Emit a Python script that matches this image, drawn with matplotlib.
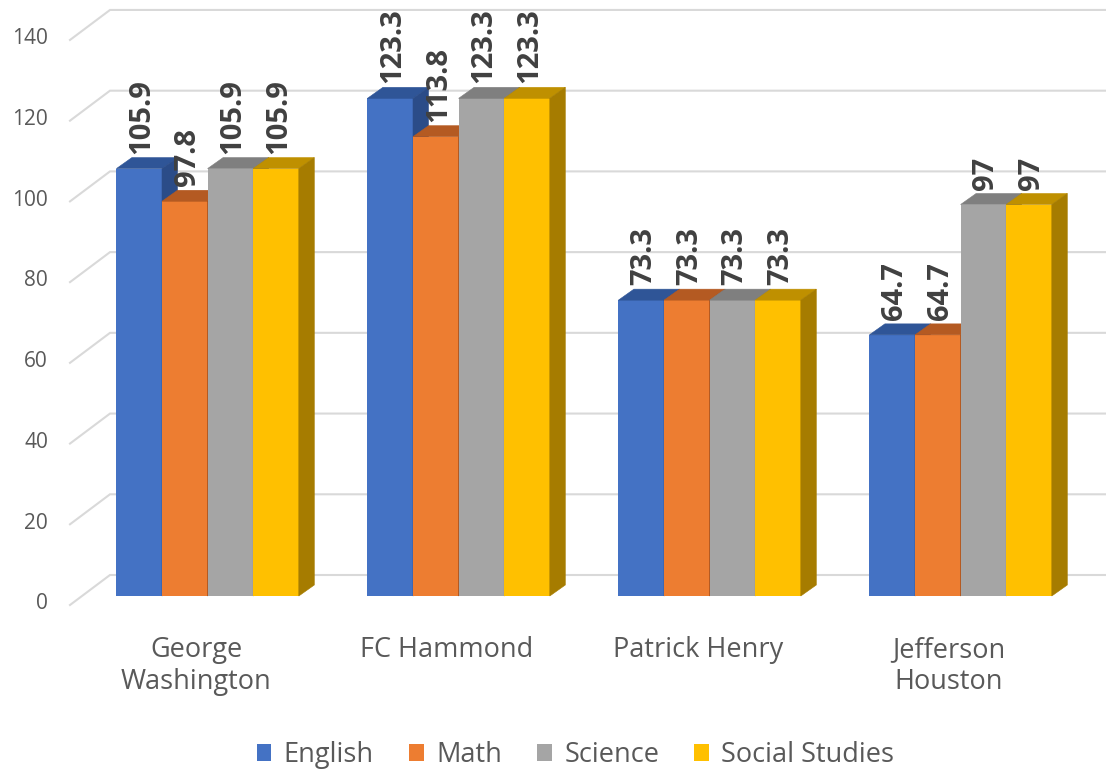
import numpy as np
import matplotlib
matplotlib.use('Agg')
import matplotlib.pyplot as plt
from matplotlib.patches import Polygon, Patch

plt.rcParams['font.family'] = ['Open Sans', 'DejaVu Sans']

# datos
escuelas = ['George\nWashington', 'FC Hammond', 'Patrick Henry', 'Jefferson\nHouston']
materias = ['English', 'Math', 'Science', 'Social Studies']
english = [105.9, 123.3, 73.3, 64.7]
math = [97.8, 113.8, 73.3, 64.7]
science = [105.9, 123.3, 73.3, 97]
social = [105.9, 123.3, 73.3, 97]
ticks_y = [0, 20, 40, 60, 80, 100, 120, 140]

series = [english, math, science, social]
frente = ['#4472c4', '#ed7d31', '#a5a5a5', '#ffc000']
arriba = ['#2f5597', '#b45a22', '#7f7f7f', '#bf9000']
lado = ['#2b4c88', '#a04f1d', '#707070', '#a67c00']

W, H = 1106, 769
fig = plt.figure(figsize=(W / 100, H / 100), dpi=100)
ax = fig.add_axes([0, 0, 1, 1])

# escala en pixeles
pg = 251.0      # pixeles entre grupos
pu = 4.036      # pixeles por unidad
x0 = 207.6      # centro del primer grupo
y0 = 596.0      # base de las barras (desde arriba)
ax.set_xlim(-x0 / pg, (W - x0) / pg)
ax.set_ylim((y0 - H) / pu, y0 / pu)
ax.axis('off')

# profundidad 3d
dx = 15.5 / pg
dy = 11.0 / pu

# lineas de la cuadricula (pared lateral + fondo)
xf = (70 - x0) / pg
xb = (110 - x0) / pg
xr = (W - x0) / pg
of = (y0 - 605) / pu
ob = (y0 - 575) / pu
for t in ticks_y:
    ax.plot([xf, xb, xr], [t + of, t + ob, t + ob], color='#d9d9d9', lw=1.5, zorder=1,
            solid_joinstyle='miter')
    ax.text((48 - x0) / pg, t + of + 0.3, str(t), ha='right', va='center',
            fontsize=15, color='#595959')

# barras
w = 45.6 / pg
xs = np.arange(len(escuelas))
for j, vals in enumerate(series):
    pos = xs + (j - 1.5) * w
    z = 3 + j * 0.1
    ax.bar(pos, vals, width=w, color=frente[j], zorder=z, linewidth=0)
    for p, v in zip(pos, vals):
        l, r = p - w / 2, p + w / 2
        ax.add_patch(Polygon([(l, v), (r, v), (r + dx, v + dy), (l + dx, v + dy)], closed=True,
                             facecolor=arriba[j], edgecolor=arriba[j], lw=0.4, zorder=z))
        ax.add_patch(Polygon([(r, 0), (r, v), (r + dx, v + dy), (r + dx, dy)], closed=True,
                             facecolor=lado[j], edgecolor=lado[j], lw=0.4, zorder=z))
        ax.text(p + 2.5 / pg, v + 15.0 / pu, f'{v:g}', rotation=90, ha='center', va='bottom',
                fontsize=21, fontweight='bold', color='#404040', zorder=10)

# nombres de las escuelas
for i, nombre in enumerate(escuelas):
    ax.text(i - 11.5 / pg, (y0 - 636) / pu, nombre, ha='center', va='top',
            fontsize=19.5, color='#595959')

# leyenda
handles = [Patch(facecolor=c, edgecolor='none') for c in frente]
fig.legend(handles, materias, loc='center', bbox_to_anchor=(575.5 / W, 1 - 755 / H), ncol=4,
           frameon=False, fontsize=19.5, handlelength=0.55, handleheight=0.55,
           handletextpad=0.45, columnspacing=1.3, labelcolor='#595959')

fig.savefig('out.png', dpi=100)
